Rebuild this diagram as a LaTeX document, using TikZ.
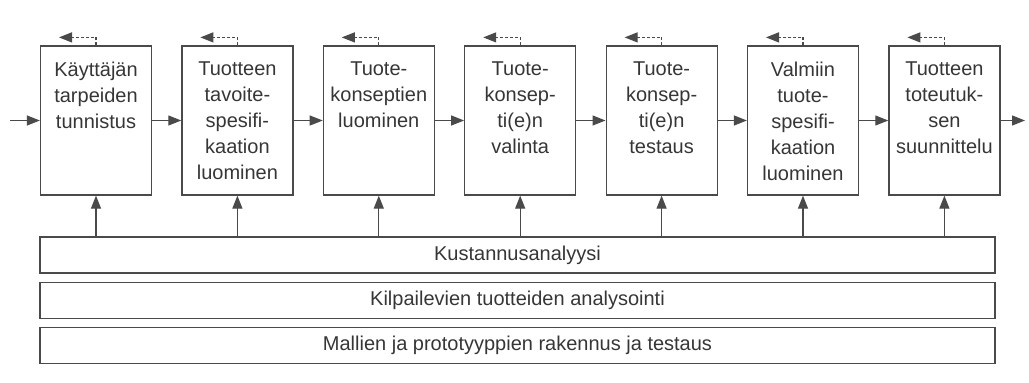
\documentclass[tikz,border=0pt]{standalone}
\usepackage{fontspec}
\setmainfont{Liberation Sans}
\usetikzlibrary{arrows.meta}
\definecolor{ink}{HTML}{4A4A4A}
\definecolor{txt}{HTML}{363636}
\tikzset{
  stagebox/.style={draw=ink, line width=1.2pt, minimum width=111pt, minimum height=149pt, inner sep=0pt},
  stagetext/.style={anchor=north, align=center, inner sep=0pt, text=txt, font=\fontsize{20}{26}\selectfont},
  barbox/.style={draw=ink, line width=1.2pt, minimum width=955pt, minimum height=36pt, inner sep=0pt, text=txt, font=\fontsize{20}{24}\selectfont},
  arr/.style={draw=ink, line width=1.2pt, -{Triangle[length=13pt,width=10pt]}},
  fb/.style={draw=ink, line width=1.2pt, dash pattern=on 3pt off 2pt, -{Triangle[length=13pt,width=10pt]}}
}
\begin{document}
\begin{tikzpicture}[x=1pt,y=-1pt]
\useasboundingbox (0,0) rectangle (1029,383);
% stage boxes
\foreach \i/\t in {1/{Käyttäjän\\tarpeiden\\tunnistus},
                   2/{Tuotteen\\tavoite-\\spesifi-\\kaation\\luominen},
                   3/{Tuote-\\konseptien\\luominen},
                   4/{Tuote-\\konsep-\\ti(e)n\\valinta},
                   5/{Tuote-\\konsep-\\ti(e)n\\testaus},
                   6/{Valmiin\\tuote-\\spesifi-\\kaation\\luominen},
                   7/{Tuotteen\\toteutuk-\\sen\\suunnittelu}}{
  \node[stagebox] (b\i) at ({96+141.4*(\i-1)},120.5) {};
  \node[stagetext] (t\i) at ([yshift=-16.5pt]b\i.north) {\t};
  \draw[fb] (b\i.north) -- ++(0,-8) -- ++(-37,0);
}
% bars
\node[barbox] (k1) at (517.5,255) {Kustannusanalyysi};
\node[barbox] (k2) at (517.5,300.5) {Kilpailevien tuotteiden analysointi};
\node[barbox] (k3) at (517.5,345.5) {Mallien ja prototyyppien rakennus ja testaus};
% flow arrows
\coordinate (in) at (10,120.5);
\coordinate (out) at (1025,120.5);
\draw[arr] (in) -- (b1.west);
\foreach \a/\b in {1/2,2/3,3/4,4/5,5/6,6/7}{
  \draw[arr] (b\a.east) -- (b\b.west);
}
\draw[arr] (b7.east) -- (out);
% support arrows
\foreach \i in {1,...,7}{
  \draw[arr] (k1.north -| b\i.south) -- (b\i.south);
}
\end{tikzpicture}
\end{document}
